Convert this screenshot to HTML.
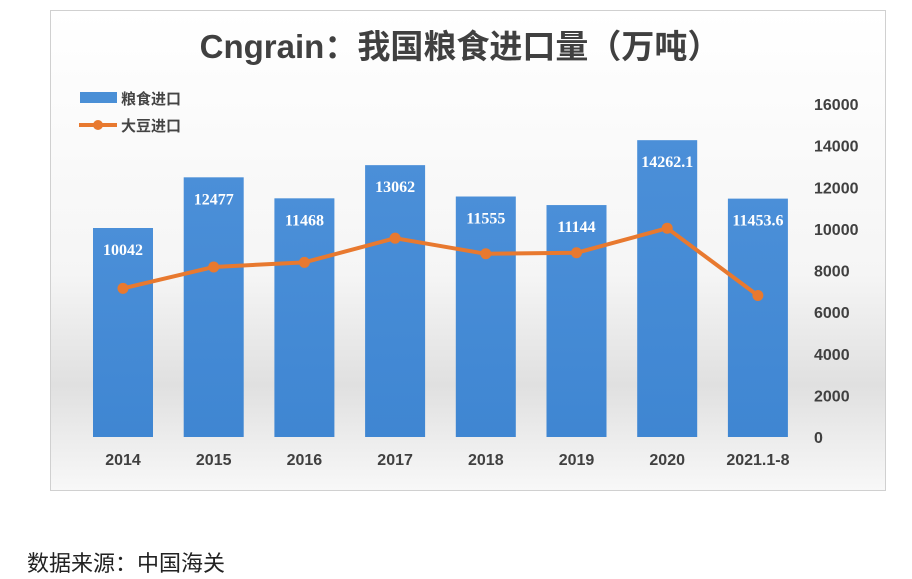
<!DOCTYPE html>
<html><head><meta charset="utf-8"><style>
body{margin:0;width:912px;height:579px;background:#fff;overflow:hidden;font-family:"Liberation Sans","Noto Sans CJK SC",sans-serif}
#src{position:absolute;left:27px;top:546px;font-size:22px;color:#222}
</style></head><body>
<svg id="chart" width="912" height="579" style="position:absolute;left:0;top:0">
<defs>
<linearGradient id="bg" x1="0" y1="0" x2="0" y2="1"><stop offset="0" stop-color="#ffffff"/><stop offset="0.55" stop-color="#f5f5f5"/><stop offset="0.78" stop-color="#e0e0e0"/><stop offset="1" stop-color="#f8f8f8"/></linearGradient>
<linearGradient id="bar" x1="0" y1="0" x2="0" y2="1"><stop offset="0" stop-color="#4b8fd8"/><stop offset="1" stop-color="#3f86d2"/></linearGradient>
</defs>
<rect x="50.5" y="10.5" width="835" height="480" fill="url(#bg)" stroke="#d0d0d0"/>
<text x="460" y="58" text-anchor="middle" font-size="33" font-weight="bold" fill="#404040">Cngrain：我国粮食进口量（万吨）</text>
<g>
<rect x="80" y="92" width="37" height="11" fill="#4a8fd6"/>
<text x="121" y="104" font-size="15" font-weight="bold" fill="#444">粮食进口</text>
<line x1="79" y1="125" x2="117" y2="125" stroke="#e8792f" stroke-width="4"/>
<circle cx="98" cy="125" r="5" fill="#e8792f"/>
<text x="121" y="131" font-size="15" font-weight="bold" fill="#444">大豆进口</text>
</g>
<g id="axis"></g><g id="bars"></g><g id="line"></g>
</svg>
<div id="src">数据来源：中国海关</div>
<script>
const categories=["2014","2015","2016","2017","2018","2019","2020","2021.1-8"];
const grainValues=[10042,12477,11468,13062,11555,11144,14262.1,11453.6];
const grainLabels=["10042","12477","11468","13062","11555","11144","14262.1","11453.6"];
const soyValues=[7140,8169,8391,9553,8803,8851,10033,6800];
const yTicks=[0,2000,4000,6000,8000,10000,12000,14000,16000];
const NS="http://www.w3.org/2000/svg";
const y0=437,yTop=104,yMax=16000;
const y=v=>y0-(v/yMax)*(y0-yTop);
const x=i=>123+i*90.7;
function mk(t,a,p){const e=document.createElementNS(NS,t);for(const k in a)e.setAttribute(k,a[k]);p.appendChild(e);return e;}
const ax=document.getElementById('axis'),bg=document.getElementById('bars'),lg=document.getElementById('line');
yTicks.forEach(v=>{const t=mk('text',{x:814,y:y(v)+6,'font-size':16,'font-weight':'bold',fill:'#404040'},ax);t.textContent=v;

});
categories.forEach((c,i)=>{const t=mk('text',{x:x(i),y:465,'text-anchor':'middle','font-size':16,'font-weight':'bold',fill:'#404040'},ax);t.textContent=c;

});
grainValues.forEach((v,i)=>{const r=mk('rect',{x:x(i)-30,y:y(v),width:60,height:y0-y(v),fill:'url(#bar)'},bg);


const t=mk('text',{x:x(i),y:y(v)+27,'text-anchor':'middle','font-size':16,'font-weight':'bold',fill:'#fff','font-family':'Liberation Serif,serif'},bg);t.textContent=grainLabels[i];

});
const pts=soyValues.map((v,i)=>x(i)+','+y(v)).join(' ');
const pl=mk('polyline',{points:pts,fill:'none',stroke:'#e8792f','stroke-width':4,'stroke-linejoin':'round'},lg);


soyValues.forEach((v,i)=>{const c=mk('circle',{cx:x(i),cy:y(v),r:5.5,fill:'#e8792f'},lg);

});
</script>
</body></html>
